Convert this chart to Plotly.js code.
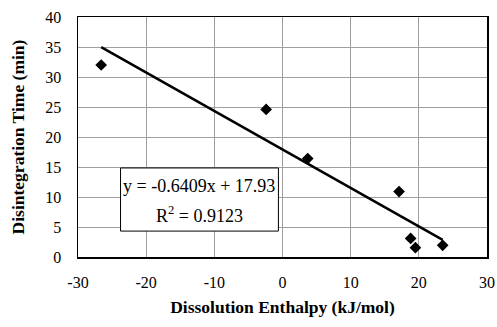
<!DOCTYPE html>
<html><head><meta charset="utf-8">
<script src="https://cdn.plot.ly/plotly-3.0.1.min.js"></script>
<style>html,body{margin:0;padding:0;background:#fff}#chart{width:497px;height:327px}</style>
</head><body><div id="chart"></div>
<script>
const enthalpy = [-26.6, -2.4, 3.7, 17.1, 18.8, 19.5, 23.5];
const disintegration = [32.0, 24.6, 16.4, 10.9, 3.1, 1.55, 1.95];
const slope = -0.6409;
const intercept = 17.93;
const r2 = 0.9123;
const xTicks = [-30, -20, -10, 0, 10, 20, 30];
const yTicks = [0, 5, 10, 15, 20, 25, 30, 35, 40];

const xmin = Math.min(...enthalpy), xmax = Math.max(...enthalpy);
const fitX = [xmin, xmax];
const fitY = fitX.map(x => slope * x + intercept);
const font = 'Liberation Serif';

const traces = [
  {x: fitX, y: fitY, mode: 'lines', line: {color: '#000', width: 2.5}, hoverinfo: 'skip'},
  {x: enthalpy, y: disintegration, mode: 'markers', marker: {symbol: 'diamond', size: 9, color: '#000'}}
];
const layout = {
  width: 497, height: 327, showlegend: false,
  paper_bgcolor: '#fff', plot_bgcolor: '#fff',
  margin: {l: 78, r: 10, t: 17, b: 70},
  font: {family: font, size: 16, color: '#000'},
  xaxis: {range: [-30, 30], tickvals: xTicks, ticktext: xTicks.map(String), showgrid: true, gridcolor: '#a0a0a0', gridwidth: 1,
    zeroline: false, showline: true, linecolor: '#000', linewidth: 1.5, mirror: true, ticks: '', ticklabelstandoff: 10,
    tickfont: {family: font, size: 16, color: '#000'},
    title: {text: 'Dissolution Enthalpy (kJ/mol)', font: {family: font, size: 17.5, weight: 'bold', color: '#000'}, standoff: 11}},
  yaxis: {range: [0, 40], tickvals: yTicks, ticktext: yTicks.map(String), showgrid: true, gridcolor: '#a0a0a0', gridwidth: 1,
    zeroline: false, showline: true, linecolor: '#000', linewidth: 1.5, mirror: true, ticks: '', ticklabelstandoff: 12,
    tickfont: {family: font, size: 16, color: '#000'},
    title: {text: 'Disintegration Time (min)', font: {family: font, size: 17.5, weight: 'bold', color: '#000'}, standoff: 16}},
  shapes: [{type: 'rect', xref: 'paper', yref: 'paper', x0: 0.104, x1: 0.49, y0: 0.108, y1: 0.371,
    line: {color: '#000', width: 1}, fillcolor: '#fff', layer: 'above'}],
  annotations: [
    {xref: 'paper', yref: 'paper', x: 0.297, y: 0.297, text: 'y = -0.6409x + 17.93', showarrow: false,
     font: {family: font, size: 18}, xanchor: 'center', yanchor: 'middle'},
    {xref: 'paper', yref: 'paper', x: 0.297, y: 0.178, text: 'R<sup>2</sup> = ' + r2.toFixed(4), showarrow: false,
     font: {family: font, size: 18}, xanchor: 'center', yanchor: 'middle'}
  ]
};
Plotly.newPlot('chart', traces, layout, {displayModeBar: false, staticPlot: true});
</script></body></html>
